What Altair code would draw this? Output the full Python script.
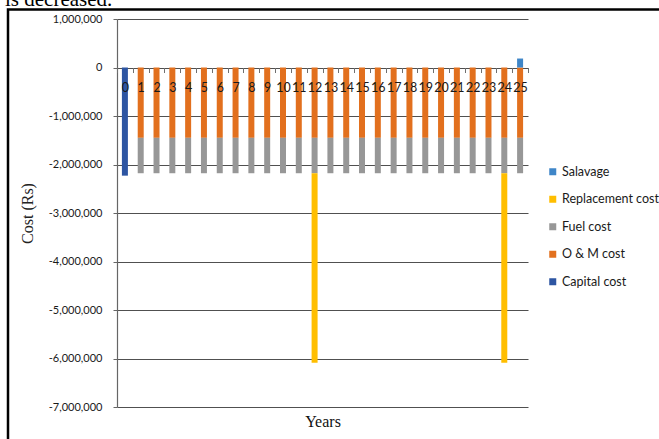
import altair as alt
import pandas as pd

# Yearly cash flows (Rs) of the system over its 25-year life
years = list(range(26))
capital_cost = [-2230000, 0, 0, 0, 0, 0, 0, 0, 0, 0, 0, 0, 0,
                0, 0, 0, 0, 0, 0, 0, 0, 0, 0, 0, 0, 0]
om_cost = [0, -1450000, -1450000, -1450000, -1450000, -1450000, -1450000,
           -1450000, -1450000, -1450000, -1450000, -1450000, -1450000,
           -1450000, -1450000, -1450000, -1450000, -1450000, -1450000,
           -1450000, -1450000, -1450000, -1450000, -1450000, -1450000, -1450000]
fuel_cost = [0, -730000, -730000, -730000, -730000, -730000, -730000,
             -730000, -730000, -730000, -730000, -730000, -730000,
             -730000, -730000, -730000, -730000, -730000, -730000,
             -730000, -730000, -730000, -730000, -730000, -730000, -730000]
replacement_cost = [0, 0, 0, 0, 0, 0, 0, 0, 0, 0, 0, 0, -3910000,
                    0, 0, 0, 0, 0, 0, 0, 0, 0, 0, 0, -3910000, 0]
salvage = [0, 0, 0, 0, 0, 0, 0, 0, 0, 0, 0, 0, 0,
           0, 0, 0, 0, 0, 0, 0, 0, 0, 0, 0, 0, 185000]

series_names = ["Salavage", "Replacement cost", "Fuel cost", "O & M cost", "Capital cost"]
series_colors = ["#3F86C8", "#FFBE00", "#979797", "#E2701E", "#2D55A2"]
stack_rank = {"Capital cost": 0, "O & M cost": 1, "Fuel cost": 2,
              "Replacement cost": 3, "Salavage": 4}

rows = []
for name, vals in [("Capital cost", capital_cost), ("O & M cost", om_cost),
                   ("Fuel cost", fuel_cost), ("Replacement cost", replacement_cost),
                   ("Salavage", salvage)]:
    for yr, v in zip(years, vals):
        if v != 0:
            rows.append({"year": str(yr), "series": name, "cost": v,
                         "rank": stack_rank[name]})
df = pd.DataFrame(rows)

W, H = 411, 388
zero_px = H / 8.0  # y position of the zero line (domain -7M .. 1M)

y_ticks = [1000000, 0, -1000000, -2000000, -3000000, -4000000,
           -5000000, -6000000, -7000000]

bars = alt.Chart(df).mark_bar(size=6).encode(
    x=alt.X("year:N", sort=[str(y) for y in years],
            scale=alt.Scale(paddingInner=0, paddingOuter=0),
            axis=alt.Axis(orient="bottom", offset=-(H - zero_px), domain=False,
                          tickBand="extent", tickSize=5, tickColor="#6f6f6f",
                          tickWidth=1, labelAngle=0, labelPadding=9,
                          labelFont="Lato", labelFontSize=12.5, labelColor="#1a1a1a",
                          grid=False, title="Years", titleFont="Liberation Serif",
                          titleFontSize=16, titleFontWeight="normal",
                          titleColor="#111", titleX=W / 2, titleY=354,
                          titleBaseline="middle", zindex=1)),
    y=alt.Y("cost:Q", stack="zero",
            scale=alt.Scale(domain=[-7000000, 1000000], nice=False, zero=False),
            axis=alt.Axis(values=y_ticks,
                          labelExpr="replace(format(datum.value, ','), '\u2212', '-')",
                          grid=True, gridColor="#505050", gridWidth=1.2,
                          domain=True, domainColor="#666666", domainWidth=1.2,
                          tickSize=4, tickColor="#666666", labelPadding=11,
                          labelFont="Lato", labelFontSize=11, labelColor="#1a1a1a",
                          title="Cost (Rs)", titleFont="Liberation Serif",
                          titleFontSize=16, titleFontWeight="normal",
                          titleColor="#222", titleX=-90, titleY=H / 2,
                          titleAngle=270, titleAlign="center",
                          titleBaseline="middle")),
    color=alt.Color("series:N",
                    scale=alt.Scale(domain=series_names, range=series_colors),
                    legend=alt.Legend(orient="none", legendX=429.5, legendY=146.5,
                                      title=None, symbolType="square",
                                      symbolSize=49, symbolStrokeWidth=0,
                                      labelFont="Lato", labelFontSize=12.5,
                                      labelColor="#1a1a1a", rowPadding=14.5,
                                      padding=0, labelOffset=3)),
    order=alt.Order("rank:Q"),
)

# Caption line running above the figure frame
caption = alt.Chart(alt.Data(values=[{}])).mark_text(
    text="is decreased.", font="Liberation Serif", fontSize=21,
    align="left", baseline="alphabetic", color="#000"
).encode(x=alt.value(-112), y=alt.value(-13))

# Outer frame around the figure
frame = alt.Chart(alt.Data(values=[{}])).mark_rect(
    filled=False, stroke="black", strokeWidth=2.5, clip=False
).encode(x=alt.value(-109), x2=alt.value(560), y=alt.value(-9.5), y2=alt.value(460))

chart = alt.layer(bars, caption, frame).properties(
    width=W, height=H,
    padding={"left": 117, "top": 19, "right": 131, "bottom": 32},
    autosize=alt.AutoSizeParams(type="none"),
    background="white",
).configure_view(stroke=None)

chart.save("out.html", embed_options={"renderer": "svg", "actions": False})
